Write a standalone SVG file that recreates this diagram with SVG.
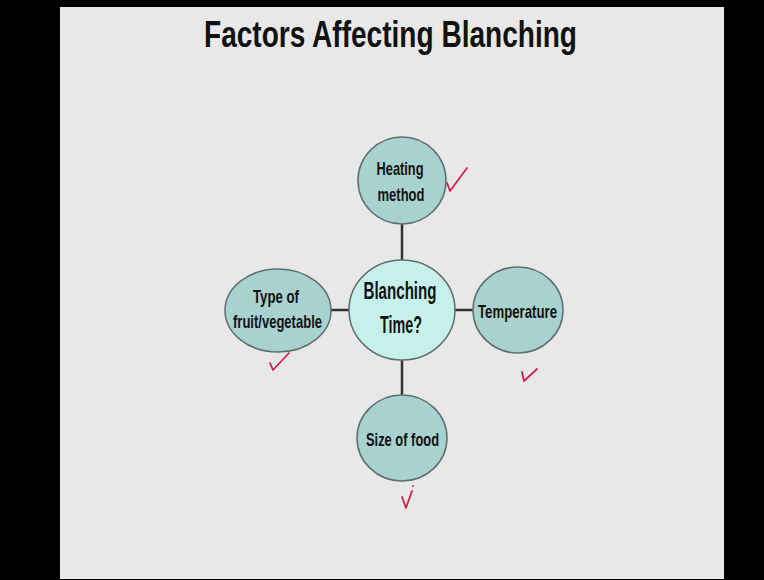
<svg xmlns="http://www.w3.org/2000/svg" width="764" height="580" viewBox="0 0 764 580">
<style>
.node{fill:#a8d2d0;stroke:#5e6e6e;stroke-width:1.5}
.hub{fill:#c6f0ea;stroke:#5e6e6e;stroke-width:1.5}
.lbl{font-family:"Liberation Sans",Arial,sans-serif;font-weight:bold;fill:#111;text-anchor:middle}
.conn{stroke:#333;stroke-width:2.5;fill:none}
.tick{stroke:#d0204a;stroke-width:1.8;fill:none;stroke-linecap:round;stroke-linejoin:round}
</style>
<rect x="0" y="0" width="764" height="580" fill="#000"/>
<rect x="60" y="7" width="664" height="572" fill="#e8e8e8"/>
<text class="lbl" x="390.5" y="47" font-size="37" textLength="373" lengthAdjust="spacingAndGlyphs">Factors Affecting Blanching</text>
<g id="connectors">
<line class="conn" x1="402" y1="224" x2="402" y2="260"/>
<line class="conn" x1="331" y1="310" x2="349" y2="310"/>
<line class="conn" x1="455" y1="310" x2="473" y2="310"/>
<line class="conn" x1="402" y1="360" x2="402" y2="395"/>
</g>
<g id="heating">
<ellipse class="node" cx="402" cy="180.5" rx="44" ry="43.5"/>
<text class="lbl" x="400" y="175" font-size="18.5" textLength="47" lengthAdjust="spacingAndGlyphs">Heating</text>
<text class="lbl" x="401" y="201" font-size="18.5" textLength="47" lengthAdjust="spacingAndGlyphs">method</text>
</g>
<g id="blanching">
<ellipse class="hub" cx="402" cy="310" rx="53" ry="50"/>
<text class="lbl" x="400" y="299" font-size="23" textLength="73" lengthAdjust="spacingAndGlyphs">Blanching</text>
<text class="lbl" x="401" y="333" font-size="23" textLength="42" lengthAdjust="spacingAndGlyphs">Time?</text>
</g>
<g id="type">
<ellipse class="node" cx="278" cy="310.5" rx="53" ry="41.5"/>
<text class="lbl" x="276" y="303" font-size="18.5" textLength="46" lengthAdjust="spacingAndGlyphs">Type of</text>
<text class="lbl" x="277.5" y="328" font-size="18.5" textLength="89" lengthAdjust="spacingAndGlyphs">fruit/vegetable</text>
</g>
<g id="temperature">
<ellipse class="node" cx="518" cy="310" rx="45" ry="43"/>
<text class="lbl" x="517.5" y="318" font-size="18.5" textLength="79" lengthAdjust="spacingAndGlyphs">Temperature</text>
</g>
<g id="size">
<ellipse class="node" cx="402" cy="438" rx="45" ry="43"/>
<text class="lbl" x="402.5" y="446" font-size="18.5" textLength="73" lengthAdjust="spacingAndGlyphs">Size of food</text>
</g>
<g id="ticks">
<path class="tick" d="M447,183 L450,191 L467,168"/>
<path class="tick" d="M270,363 L273,370 L289,353"/>
<path class="tick" d="M522,372 L524,381 L537,369"/>
<path class="tick" d="M402,497 L406,508 L412,491"/>
<circle cx="413" cy="486" r="1" fill="#d0204a"/>
</g>
</svg>
